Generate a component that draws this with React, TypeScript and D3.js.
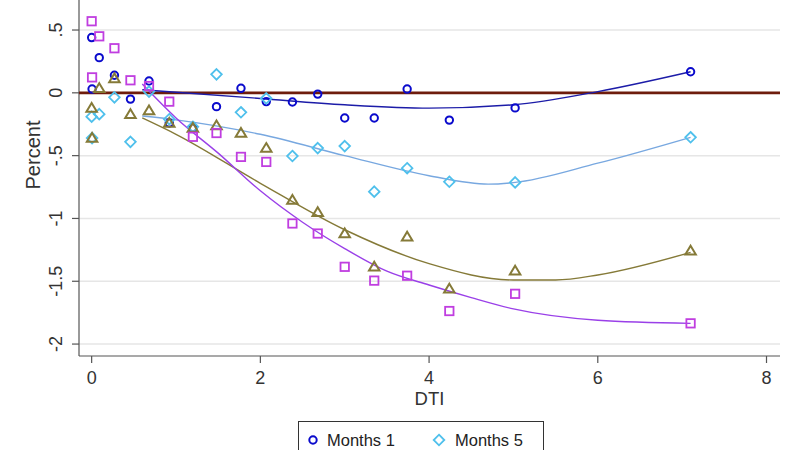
import React from 'react';
import * as d3 from 'd3';

// binned DTI values (x) shared by all four series
const dti = [0, 0.005, 0.09, 0.27, 0.46, 0.68, 0.92, 1.2, 1.48, 1.77, 2.07, 2.38, 2.68, 3.0, 3.35, 3.74, 4.24, 5.02, 7.1];

const months1 = [0.44, 0.03, 0.28, 0.14, -0.05, 0.094, -0.24, -0.28, -0.11, 0.036, -0.07, -0.073, -0.01, -0.2, -0.2, 0.03, -0.217, -0.12, 0.168];
const months5 = [-0.19, -0.36, -0.17, -0.036, -0.39, 0.01, -0.21, -0.27, 0.147, -0.155, -0.044, -0.503, -0.44, -0.424, -0.787, -0.6, -0.708, -0.713, -0.354];
const monthsC = [-0.12, -0.36, 0.036, 0.115, -0.17, -0.14, -0.24, -0.28, -0.26, -0.32, -0.44, -0.853, -0.95, -1.12, -1.385, -1.146, -1.56, -1.416, -1.257];
const monthsD = [0.57, 0.123, 0.45, 0.355, 0.1, 0.054, -0.07, -0.35, -0.32, -0.51, -0.55, -1.04, -1.12, -1.385, -1.495, -1.456, -1.737, -1.6, -1.835];

// quadratic fit lines
const fit1: [number, number][] = [[0.6, 0.025], [1, 0.005], [2, -0.045], [3, -0.095], [4, -0.122], [5, -0.095], [6, 0.01], [7.1, 0.168]];
const fit5: [number, number][] = [[0.6, -0.185], [1, -0.215], [2, -0.33], [3, -0.5], [4, -0.66], [4.7, -0.727], [5, -0.715], [6, -0.56], [7.1, -0.354]];
const fitC: [number, number][] = [[0.6, -0.2], [1, -0.33], [2, -0.72], [3, -1.09], [4, -1.36], [5, -1.49], [5.5, -1.49], [6, -1.45], [7.1, -1.27]];
const fitD: [number, number][] = [[0.6, 0.07], [1, -0.2], [1.5, -0.48], [2, -0.78], [2.5, -1.03], [3, -1.24], [3.5, -1.42], [4, -1.53], [4.5, -1.63], [5, -1.72], [6, -1.81], [7.1, -1.835]];

const yTicks = [0.5, 0, -0.5, -1, -1.5, -2];
const yTickLabels = ['.5', '0', '-.5', '-1', '-1.5', '-2'];
const xTicks = [0, 2, 4, 6, 8];

const legendLabels = ['Months 1', 'Months 5'];

const font = "'Liberation Sans', Arial, Helvetica, sans-serif";

const width = 800;
const height = 450;
const plot = { l: 79, r: 780, t: 0, b: 356 };

const x = d3.scaleLinear().domain([-0.15, 8.16]).range([plot.l, plot.r]);
const y = d3.scaleLinear().domain([-2.095, 0.739]).range([plot.b, plot.t]);

const fitLine = d3
  .line<[number, number]>()
  .x(d => x(d[0]))
  .y(d => y(d[1]))
  .curve(d3.curveMonotoneX);

const Marker = ({ kind, cx, cy, color }) => {
  if (kind === 'circle') {
    return <circle cx={cx} cy={cy} r={3.7} fill="none" stroke={color} strokeWidth={2} />;
  }
  if (kind === 'diamond') {
    const s = 5.3;
    return (
      <path
        d={`M${cx},${cy - s}L${cx + s},${cy}L${cx},${cy + s}L${cx - s},${cy}Z`}
        fill="none"
        stroke={color}
        strokeWidth={1.8}
      />
    );
  }
  if (kind === 'triangle') {
    const s = 5;
    return (
      <path
        d={`M${cx},${cy - s}L${cx + s * 1.05},${cy + s * 0.75}L${cx - s * 1.05},${cy + s * 0.75}Z`}
        fill="none"
        stroke={color}
        strokeWidth={2}
      />
    );
  }
  return <rect x={cx - 4.2} y={cy - 4.2} width={8.4} height={8.4} fill="none" stroke={color} strokeWidth={1.8} />;
};

const series = [
  { values: months1, fit: fit1, kind: 'circle', color: '#0a0acc', line: '#1c1ca8' },
  { values: months5, fit: fit5, kind: 'diamond', color: '#4fc0ec', line: '#78a8e0' },
  { values: monthsC, fit: fitC, kind: 'triangle', color: '#857a38', line: '#857a38' },
  { values: monthsD, fit: fitD, kind: 'square', color: '#c03ee0', line: '#9a40e8' }
];

const App = () => {
  return (
    <svg
      width={width}
      height={height}
      style={{ position: 'absolute', left: 0, top: 0, background: '#fff' }}
      fontFamily={font}
    >
      {/* gridlines */}
      {yTicks.map(t => (
        <line key={'g' + t} x1={plot.l} x2={plot.r} y1={y(t)} y2={y(t)} stroke="#e6e6e6" strokeWidth={1.5} />
      ))}

      {/* axes */}
      <line x1={plot.l} x2={plot.l} y1={0} y2={plot.b} stroke="#555" strokeWidth={1.2} />
      <line x1={plot.l} x2={plot.r} y1={plot.b} y2={plot.b} stroke="#555" strokeWidth={1.2} />

      {yTicks.map((t, i) => (
        <g key={'y' + t}>
          <line x1={plot.l - 7} x2={plot.l} y1={y(t)} y2={y(t)} stroke="#555" strokeWidth={1.2} />
          <text
            transform={`translate(62,${y(t)}) rotate(-90)`}
            textAnchor="middle"
            fontSize={18}
            fill="#333"
          >
            {yTickLabels[i]}
          </text>
        </g>
      ))}

      {xTicks.map(t => (
        <g key={'x' + t}>
          <line x1={x(t)} x2={x(t)} y1={plot.b} y2={plot.b + 7} stroke="#555" strokeWidth={1.2} />
          <text x={x(t)} y={plot.b + 28} textAnchor="middle" fontSize={18} fill="#333">
            {t}
          </text>
        </g>
      ))}

      <text transform="translate(40,155) rotate(-90)" textAnchor="middle" fontSize={20} fill="#333">
        Percent
      </text>
      <text x={(plot.l + plot.r) / 2} y={405} textAnchor="middle" fontSize={18.5} fill="#333">
        DTI
      </text>

      {/* reference line at zero */}
      <line x1={plot.l} x2={plot.r} y1={y(0)} y2={y(0)} stroke="#6e1c0c" strokeWidth={2.6} />

      {/* fitted curves */}
      {series.map((s, i) => (
        <path key={'f' + i} d={fitLine(s.fit) || ''} fill="none" stroke={s.line} strokeWidth={1.4} />
      ))}

      {/* binned points */}
      {series.map((s, i) => (
        <g key={'s' + i}>
          {s.values.map((v, j) => (
            <Marker key={j} kind={s.kind} cx={x(dti[j])} cy={y(v)} color={s.color} />
          ))}
        </g>
      ))}

      {/* legend (lower rows fall outside the frame) */}
      <rect x={298.5} y={421.5} width={245} height={60} fill="#fff" stroke="#333" strokeWidth={1} />
      <Marker kind="circle" cx={313} cy={440} color={series[0].color} />
      <text x={327} y={446} fontSize={16.5} fill="#222">
        {legendLabels[0]}
      </text>
      <Marker kind="diamond" cx={439} cy={440} color={series[1].color} />
      <text x={455} y={446} fontSize={16.5} fill="#222">
        {legendLabels[1]}
      </text>
    </svg>
  );
};

export default App;
